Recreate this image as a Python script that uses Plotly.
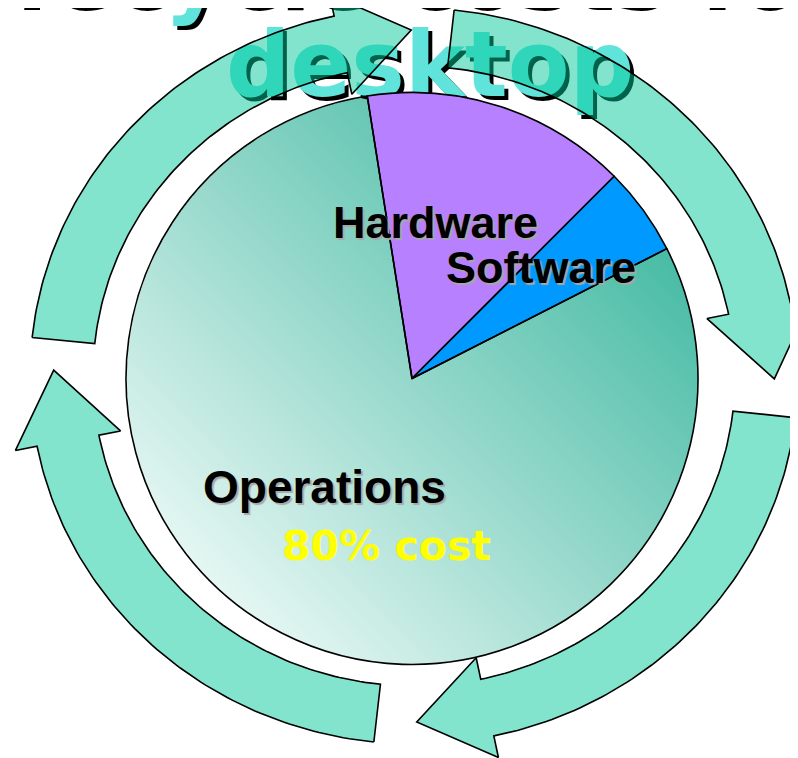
import numpy as np
import plotly.graph_objects as go

# pie data
labels = ["Hardware", "Software", "Operations"]
values = [15, 5, 80]
slice_colors = ["#b780fe", "#0099ff", "rgba(0,0,0,0)"]   # operations gets a gradient underlay
title_lines = ["Lifecycle costs for", "desktop"]
note = "80% cost"

# cycle arrows: start / head angle (deg, clockwise from 12 o'clock)
arrow_tail = [6, 96.5, 186, 276]
arrow_head = [78.5, 168, 259, 348]

OFF = 8                                 # page body margin
W, H = 798 - OFF, 758 - OFF
PCX, PCY, PR = 412, 378.5, 286          # pie centre / radius (window px)
ACX, ACY = 414, 376                     # arrow ring centre
AO, BO, AI, BI = 384, 368, 321, 310     # outer / inner semi axes
BARB, HEAD_LEN = 22, 72
TSIZE = 90


def arrow_xy(t0, t1, n=80):
    th = np.radians(np.linspace(t0, t1, n))
    ox = ACX + AO * np.sin(th)
    oy = ACY - BO * np.cos(th)
    ix = ACX + AI * np.sin(th[::-1])
    iy = ACY - BI * np.cos(th[::-1])
    tb = np.radians(t1)
    am, bm = (AO + AI) / 2, (BO + BI) / 2
    mx, my = ACX + am * np.sin(tb), ACY - bm * np.cos(tb)
    tx, ty = am * np.cos(tb), bm * np.sin(tb)
    nn = np.hypot(tx, ty)
    tip = (mx + HEAD_LEN * tx / nn, my + HEAD_LEN * ty / nn)
    bo = (ACX + (AO + BARB) * np.sin(tb), ACY - (BO + BARB) * np.cos(tb))
    bi = (ACX + (AI - BARB) * np.sin(tb), ACY - (BI - BARB) * np.cos(tb))
    xs = list(ox) + [bo[0], tip[0], bi[0]] + list(ix) + [ox[0]]
    ys = list(oy) + [bo[1], tip[1], bi[1]] + list(iy) + [oy[0]]
    return xs, ys


fig = go.Figure()

# title (under the translucent arrows)
title_font = dict(family="DejaVu Sans", size=TSIZE, color="#5fe3da", weight="bold",
                  shadow="4px 4px 0px #000")
for txt, x, base in [(title_lines[0], 382, 15), (title_lines[1], 430, 105)]:
    fig.add_trace(go.Scatter(x=[x], y=[base - 0.35 * TSIZE], mode="text", text=[txt],
                             textposition="middle center", textfont=title_font,
                             cliponaxis=True, hoverinfo="skip", showlegend=False))

# diagonal gradient behind the operations slice
gx = np.arange(PCX - PR, PCX + PR + 1, 1.0)
gy = np.arange(PCY - PR, PCY + PR + 1, 1.0)
GX, GY = np.meshgrid(gx, gy)
grad = ((GX - PCX) - (GY - PCY)) / np.sqrt(2)
grad = (grad + PR) / (2 * PR)
grad[np.hypot(GX - PCX, GY - PCY) > PR - 0.5] = np.nan
fig.add_trace(go.Heatmap(x=gx, y=gy, z=grad.astype(np.float32), zmin=0, zmax=1,
                         colorscale=[[0, "#e4f6f2"], [1, "#44baa3"]],
                         showscale=False, hoverinfo="skip"))

for t0, t1 in zip(arrow_tail, arrow_head):
    ax_, ay_ = arrow_xy(t0, t1)
    fig.add_trace(go.Scatter(x=ax_, y=ay_, mode="lines", fill="toself",
                             fillcolor="rgba(0,200,150,0.49)",
                             line=dict(color="black", width=1.6),
                             hoverinfo="skip", showlegend=False))

fig.add_trace(go.Pie(labels=labels, values=values, sort=False, direction="clockwise",
                     rotation=-9, textinfo="none", hoverinfo="skip",
                     marker=dict(colors=slice_colors, line=dict(color="black", width=1.6)),
                     domain=dict(x=[(PCX - PR - OFF) / W, (PCX + PR - OFF) / W],
                                 y=[1 - (PCY + PR - OFF) / H, 1 - (PCY - PR - OFF) / H]),
                     showlegend=False))

lab_font = dict(family="Liberation Sans, Arial", color="black", weight="bold",
                shadow="2px 2px 1px #a8a8a8")
label_pos = {"Hardware": (435, 238, 45), "Software": (541, 283, 45),
             "Operations": (324, 503, 46)}
for name in labels:
    x, base, s = label_pos[name]
    fig.add_annotation(x=x, y=base - 0.346 * s, xref="x", yref="y", text=name,
                       showarrow=False, font=dict(lab_font, size=s))
fig.add_annotation(x=386, y=560 - 0.346 * 41, xref="x", yref="y", text=note,
                   showarrow=False,
                   font=dict(family="DejaVu Sans", size=41, color="#ffff00", weight="bold"))

fig.update_layout(width=W, height=H, margin=dict(l=0, r=0, t=0, b=0),
                  paper_bgcolor="white", plot_bgcolor="white", showlegend=False,
                  xaxis=dict(range=[OFF, OFF + W], visible=False, fixedrange=True),
                  yaxis=dict(range=[OFF + H, OFF], visible=False, fixedrange=True))

fig.write_html("out.html")
